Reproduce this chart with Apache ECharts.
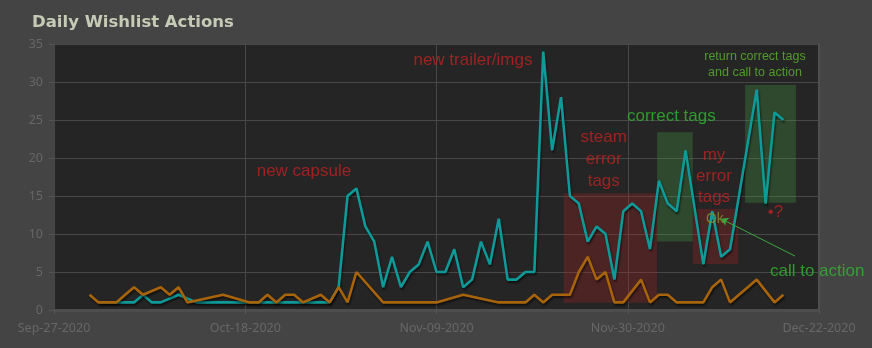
<!DOCTYPE html>
<html>
<head>
<meta charset="utf-8">
<script src="https://cdn.jsdelivr.net/npm/echarts@6/dist/echarts.min.js"></script>
<style>
  html, body { margin: 0; padding: 0; background: #444444; }
  #chart { width: 872px; height: 348px; }
</style>
</head>
<body>
<div id="chart"></div>
<script>
// Day offsets are counted from the first day of the range (Sep 27, 2020).
const START_DATE = Date.UTC(2020, 8, 27);
const RANGE_DAYS = 86;
const TICK_STEP = 21.5;

// Wishlist adds (teal)
const addsDay = [5, 6, 7, 8, 9, 10, 11, 12, 14,
  16, 17, 18, 19, 20, 21, 22, 23, 24, 25, 26, 27, 28, 29, 30, 31,
  32, 33, 34, 35, 36, 37, 38, 39, 40, 41, 42, 43, 44, 45, 46, 47, 48, 49, 50,
  51, 52, 53, 54, 55, 56, 57, 58, 59, 60, 61, 62, 63, 64, 65, 66, 67, 68, 69, 70, 71,
  73, 74, 75, 76, 79, 80, 81, 82];
const addsCount = [1, 1, 1, 1, 1, 2, 1, 1, 2,
  1, 1, 1, 1, 1, 1, 1, 1, 1, 1, 1, 1, 1, 1, 1, 1,
  3, 15, 16, 11, 9, 3, 7, 3, 5, 6, 9, 5, 5, 8, 3, 4, 9, 6, 12,
  4, 4, 5, 5, 34, 21, 28, 15, 14, 9, 11, 10, 4, 13, 14, 13, 8, 17, 14, 13, 21,
  6, 13, 7, 8, 29, 14, 26, 25];

// Wishlist deletes (orange)
const deletesDay = [4, 5, 6, 7, 8, 9, 10, 12, 13, 14, 15, 19, 22, 23, 24, 25, 26, 27, 28,
  30, 31, 32, 33, 34, 37, 38, 39, 40, 41, 42, 43, 46, 50, 51, 52, 53, 54, 55, 56, 57, 58,
  59, 60, 61, 62, 63, 64, 66, 67, 68, 69, 70, 71, 72, 73, 74, 75, 76, 77, 78, 79, 81, 82];
const deletesCount = [2, 1, 1, 1, 2, 3, 2, 3, 2, 3, 1, 2, 1, 1, 2, 1, 2, 2, 1,
  2, 1, 3, 1, 5, 1, 1, 1, 1, 1, 1, 1, 2, 1, 1, 1, 1, 2, 1, 2, 2, 2,
  5, 7, 4, 5, 1, 1, 4, 1, 2, 2, 1, 1, 1, 1, 3, 4, 1, 2, 3, 4, 1, 2];

// Highlighted periods: [fromDay, toDay, lowValue, highValue]
const periodSteamErrors = [57.3, 67.8, 0.95, 15.35];
const periodCorrectTags = [67.8, 71.8, 9.0, 23.4];
const periodMyErrors = [71.8, 76.9, 6.05, 13.3];
const periodReturnTags = [77.7, 83.4, 14.1, 29.6];

// Notes: [day, value, text]
const noteTexts = [
  [28.1, 18.2, 'new capsule'],
  [47.1, 32.9, 'new trailer/imgs'],
  [61.8, 19.8, 'steam\nerror\ntags'],
  [69.4, 25.5, 'correct tags'],
  [74.2, 17.6, 'my\nerror\ntags'],
  [78.8, 32.3, 'return correct tags\nand call to action'],
  [85.8, 5.1, 'call to action'],
  [74.3, 11.9, 'Ok'],
  [81.1, 12.8, '\u2022?']
];
// Pointer from "call to action" to the marked point
const pointerFrom = [83.3, 7.1];
const pointerTo = [75.0, 12.0];

const RED = '#bd2222';
const GREEN = '#2fb82f';
const noteStyles = [
  { color: RED, fontSize: 17 },
  { color: RED, fontSize: 17 },
  { color: RED, fontSize: 17, lineHeight: 22 },
  { color: GREEN, fontSize: 17 },
  { color: RED, fontSize: 17, lineHeight: 21 },
  { color: '#5cb82c', fontSize: 12.5, lineHeight: 16.5 },
  { color: GREEN, fontSize: 17 },
  { color: '#7f9530', fontSize: 14 },
  { color: RED, fontSize: 17 }
];

const MONTHS = ['Jan', 'Feb', 'Mar', 'Apr', 'May', 'Jun', 'Jul', 'Aug', 'Sep', 'Oct', 'Nov', 'Dec'];
function dayLabel(v) {
  const d = new Date(START_DATE + Math.floor(v + 1e-6) * 86400000);
  const dd = String(d.getUTCDate()).padStart(2, '0');
  return MONTHS[d.getUTCMonth()] + '-' + dd + '-' + d.getUTCFullYear();
}

function zip(xs, ys) { return xs.map((x, i) => [x, ys[i]]); }
function area(p, color) {
  return [{ coord: [p[0], p[3]], itemStyle: { color: color } }, { coord: [p[1], p[2]] }];
}

const FONT = '"Liberation Sans", Arial, sans-serif';
const lineShadow = { shadowColor: 'rgba(0,0,0,0.55)', shadowBlur: 2, shadowOffsetX: 1, shadowOffsetY: 2 };

const chart = echarts.init(document.getElementById('chart'), null, { renderer: 'canvas' });
chart.setOption({
  animation: false,
  backgroundColor: '#444444',
  textStyle: { fontFamily: FONT },
  title: {
    text: 'Daily Wishlist Actions',
    left: 27, top: 9,
    textStyle: { color: '#c6cbb6', fontSize: 16.5, fontWeight: 'bold', fontFamily: '"DejaVu Sans", Verdana, sans-serif' }
  },
  grid: { left: 54, right: 53, top: 44, bottom: 38, show: true, backgroundColor: '#252525', borderWidth: 0 },
  xAxis: {
    type: 'value', min: 0, max: RANGE_DAYS, interval: TICK_STEP,
    axisLine: { show: true, lineStyle: { color: '#4d4d4d', width: 3 } },
    axisTick: { show: true, length: 4, lineStyle: { color: '#555' } },
    axisLabel: { color: '#676767', fontSize: 12.5, margin: 12, formatter: dayLabel, fontFamily: '"Noto Sans", sans-serif' },
    splitLine: { show: true, lineStyle: { color: '#484848', width: 1 } }
  },
  yAxis: [{
    type: 'value', min: 0, max: 35, interval: 5,
    axisLine: { show: false },
    axisTick: { show: true, length: 5, lineStyle: { color: '#555' } },
    axisLabel: { color: '#676767', fontSize: 12.5, margin: 11, fontFamily: '"Noto Sans", sans-serif' },
    splitLine: { show: true, lineStyle: { color: '#484848', width: 1 } }
  }, {
    type: 'value', min: 0, max: 35, position: 'right',
    axisLine: { show: true, lineStyle: { color: '#4f4f4f', width: 2 } },
    axisTick: { show: false }, axisLabel: { show: false }, splitLine: { show: false }
  }],
  series: [
    {
      name: 'Adds', type: 'line', data: zip(addsDay, addsCount),
      showSymbol: false, symbol: 'none', z: 2,
      lineStyle: Object.assign({ color: '#0d9a98', width: 2.6 }, lineShadow)
    },
    {
      name: 'Deletes', type: 'line', data: zip(deletesDay, deletesCount),
      showSymbol: false, symbol: 'none', z: 3,
      lineStyle: Object.assign({ color: '#a8640a', width: 2.6 }, lineShadow)
    },
    {
      name: 'periods', type: 'line', data: [], z: 5, silent: true,
      markArea: {
        silent: true,
        data: [
          area(periodSteamErrors, 'rgba(180,32,32,0.27)'),
          area(periodCorrectTags, 'rgba(72,170,72,0.28)'),
          area(periodMyErrors, 'rgba(180,32,32,0.27)'),
          area(periodReturnTags, 'rgba(72,170,72,0.28)')
        ]
      }
    },
    {
      name: 'notes', type: 'scatter', z: 8, silent: true, symbolSize: 0,
      data: noteTexts.map((n, i) => ({
        value: [n[0], n[1]],
        label: Object.assign({
          show: true, position: 'inside', formatter: n[2], align: 'center', verticalAlign: 'middle', fontFamily: FONT
        }, noteStyles[i])
      })),
      markLine: {
        silent: true, animation: false, symbolSize: 7,
        label: { show: false },
        lineStyle: { color: '#3aa83a', width: 1, type: 'solid' },
        data: [[{ coord: pointerFrom, symbol: 'none' }, { coord: pointerTo, symbol: 'arrow' }]]
      }
    }
  ]
});
</script>
</body>
</html>
